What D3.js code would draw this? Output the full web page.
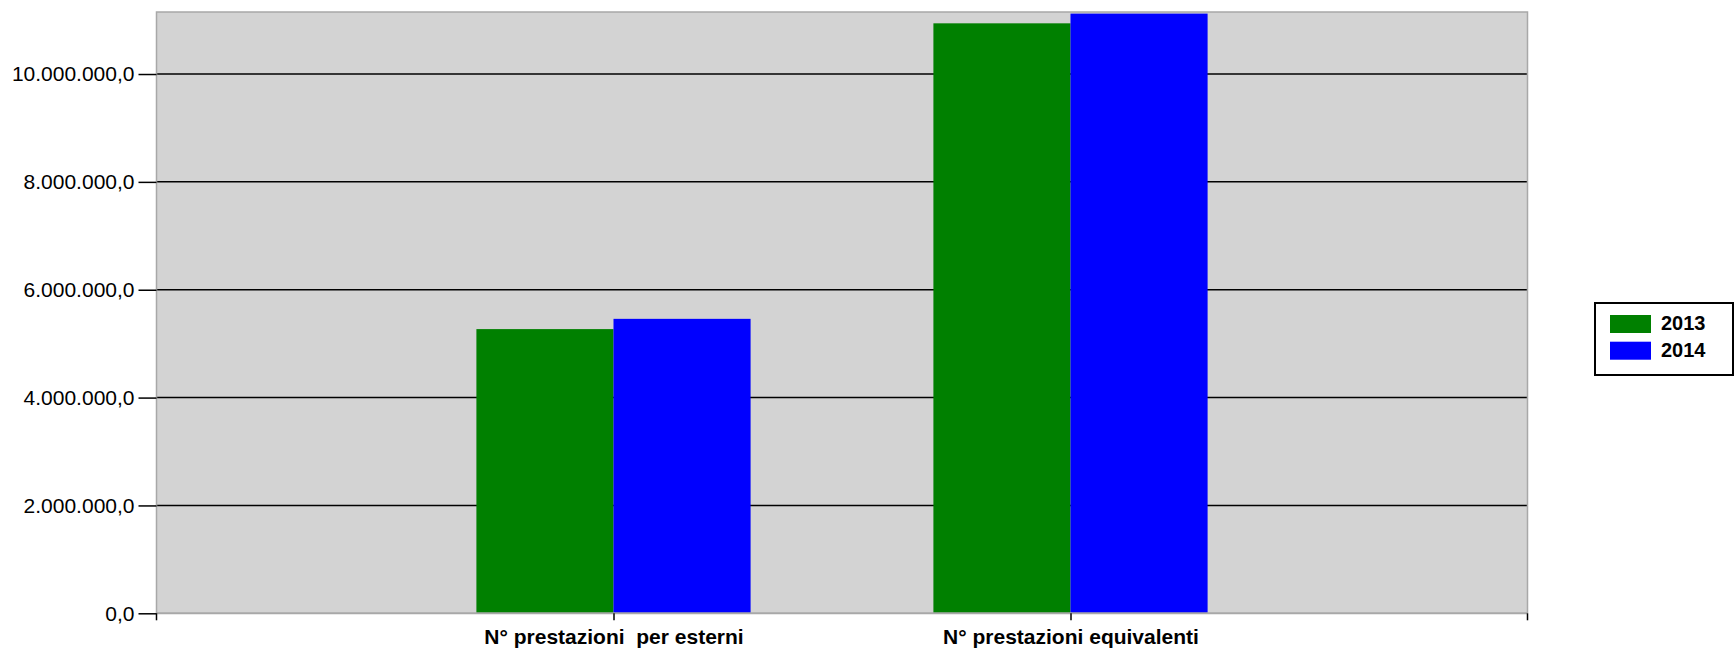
<!DOCTYPE html>
<html>
<head>
<meta charset="utf-8">
<script src="https://cdn.jsdelivr.net/npm/d3@7"></script>
<style>
  html, body { margin: 0; padding: 0; background: #fff; }
  svg { display: block; font-family: "Liberation Sans", Arial, sans-serif; }
</style>
</head>
<body>
<svg id="chart" width="1735" height="650"></svg>
<script>
// ---- data ----
const categories = ["N° prestazioni  per esterni", "N° prestazioni equivalenti"];
const seriesNames = ["2013", "2014"];
const values2013 = [5270000, 10940000];
const values2014 = [5460000, 11120000];
const yTicks = [0, 2000000, 4000000, 6000000, 8000000, 10000000];
const yMax = 11150000;
const colors = ["#008000", "#0000ff"];

const seriesValues = [values2013, values2014];

// ---- layout ----
const svg = d3.select("#chart");
const plot = { left: 156.5, top: 12, right: 1527.5, bottom: 613.3 };

const x = d3.scalePoint().domain(categories).range([plot.left, plot.right]).padding(1);
const step = x.step();
const xs = d3.scaleBand().domain(seriesNames).range([-0.3 * step, 0.3 * step]).padding(0);
const y = d3.scaleLinear().domain([0, yMax]).range([plot.bottom, plot.top]);

const it = d3.formatLocale({ decimal: ",", thousands: ".", grouping: [3], currency: ["€", ""] });
const fmt = it.format(",.1f");

// background
svg.append("rect")
  .attr("x", plot.left).attr("y", plot.top)
  .attr("width", plot.right - plot.left).attr("height", plot.bottom - plot.top)
  .attr("fill", "#d3d3d3");

// gridlines
svg.append("g").selectAll("line").data(yTicks.filter(d => d > 0)).join("line")
  .attr("x1", plot.left).attr("x2", plot.right)
  .attr("y1", d => y(d)).attr("y2", d => y(d))
  .attr("stroke", "#000").attr("stroke-width", 1.5);

// bars
const groups = svg.append("g").selectAll("g").data(categories).join("g")
  .attr("transform", d => `translate(${x(d)},0)`);
groups.selectAll("rect")
  .data((c, i) => seriesNames.map((s, j) => ({ s, v: seriesValues[j][i], c: colors[j] })))
  .join("rect")
  .attr("x", d => xs(d.s))
  .attr("width", xs.bandwidth())
  .attr("y", d => y(d.v))
  .attr("height", d => y(0) - y(d.v))
  .attr("fill", d => d.c);

// plot border (left, top, right) and bottom axis line
svg.append("path")
  .attr("d", `M${plot.left},${plot.bottom}V${plot.top}H${plot.right}V${plot.bottom}`)
  .attr("fill", "none").attr("stroke", "#a8a8a8").attr("stroke-width", 1.5);
svg.append("line")
  .attr("x1", plot.left).attr("x2", plot.right)
  .attr("y1", plot.bottom).attr("y2", plot.bottom)
  .attr("stroke", "#a8a8a8").attr("stroke-width", 2);

// y axis
const yAxis = svg.append("g")
  .attr("transform", `translate(${plot.left},0)`)
  .call(d3.axisLeft(y).tickValues(yTicks).tickFormat(fmt).tickSize(18).tickPadding(4));
yAxis.select(".domain").remove();
yAxis.selectAll(".tick line").attr("stroke", "#000").attr("stroke-width", 1.5);
yAxis.selectAll(".tick text").attr("fill", "#000").style("font-size", "21px")
  .style("font-family", "'Liberation Sans', Arial, sans-serif");

// x axis
const xAxis = svg.append("g")
  .attr("transform", `translate(0,${plot.bottom})`)
  .call(d3.axisBottom(x).tickSize(7).tickPadding(9));
xAxis.select(".domain").remove();
xAxis.selectAll(".tick line").attr("stroke", "#000").attr("stroke-width", 1.5);
xAxis.selectAll(".tick text").attr("fill", "#000").style("font-size", "21px")
  .style("white-space", "pre").attr("xml:space", "preserve")
  .style("font-weight", "bold").style("font-family", "'Liberation Sans', Arial, sans-serif");
// end ticks at plot edges
svg.append("g").selectAll("line").data([plot.left, plot.right]).join("line")
  .attr("x1", d => d).attr("x2", d => d)
  .attr("y1", plot.bottom).attr("y2", plot.bottom + 7)
  .attr("stroke", "#000").attr("stroke-width", 1.5);

// legend
const legend = svg.append("g");
legend.append("rect")
  .attr("x", 1595).attr("y", 303).attr("width", 138).attr("height", 72)
  .attr("fill", "#fff").attr("stroke", "#000").attr("stroke-width", 2);
const li = legend.selectAll("g.item").data(seriesNames).join("g").attr("class", "item")
  .attr("transform", (d, i) => `translate(1610,${315 + i * 26.7})`);
li.append("rect").attr("width", 41).attr("height", 18).attr("fill", (d, i) => colors[i]);
li.append("text").attr("x", 51).attr("y", 15.3).text(d => d)
  .style("font-size", "20px").style("font-weight", "bold").attr("fill", "#000");
</script>
</body>
</html>
